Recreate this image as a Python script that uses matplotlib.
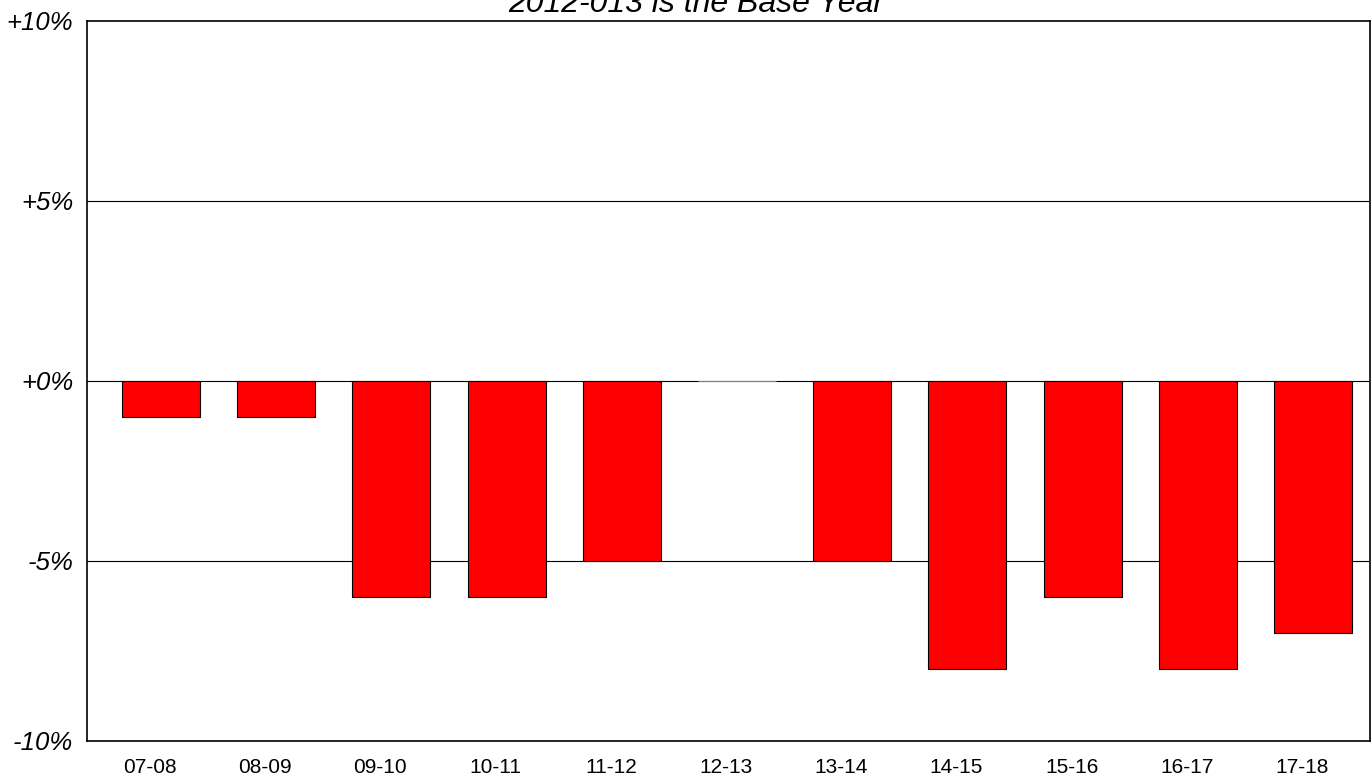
import matplotlib
matplotlib.use("Agg")
import matplotlib.pyplot as plt
import matplotlib.transforms as mtransforms
import numpy as np

plt.rcParams['font.family'] = ['Liberation Sans', 'DejaVu Sans']

categories = ["07-08", "08-09", "09-10", "10-11", "11-12", "12-13",
              "13-14", "14-15", "15-16", "16-17", "17-18"]
values = [-1, -1, -6, -6, -5, 0, -5, -8, -6, -8, -7]
ytick_vals = [-10, -5, 0, 5, 10]
ytick_labels = ["-10%", "-5%", "+0%", "+5%", "+10%"]
title = "2012-013 is the Base Year"

W, H = 1371, 777
fig = plt.figure(figsize=(W / 100, H / 100), dpi=100)
ax = fig.add_axes([87 / W, 1 - 741 / H, (1370 - 87) / W, (741 - 21) / H])

x = np.arange(len(categories))
edgecols = ['black' if v != 0 else '#7080a8' for v in values]
ax.bar(x, values, width=0.677, color='#ff0000', edgecolor=edgecols,
       linewidth=0.8, zorder=3)

ax.set_xlim(-0.642, len(categories) - 1 + 0.495)
ax.set_ylim(-10, 10)
for yv in [-5, 0, 5]:
    ax.axhline(yv, color='black', linewidth=0.8, zorder=1)

ax.set_yticks(ytick_vals)
ax.set_yticklabels(ytick_labels, fontsize=18.5, fontstyle='italic')
ax.set_xticks(x)
ax.set_xticklabels(categories, fontsize=15)
ax.tick_params(axis='both', length=0)
ax.tick_params(axis='y', pad=10)
ax.tick_params(axis='x', pad=12)

offset = mtransforms.ScaledTranslation(-11 / 100, 0, fig.dpi_scale_trans)
for lbl in ax.get_xticklabels():
    lbl.set_transform(lbl.get_transform() + offset)

for s in ax.spines.values():
    s.set_linewidth(1.2)
    s.set_color('black')

fig.text(696.5 / W, 1 - 12 / H, title, ha='center', va='baseline',
         fontsize=23, fontstyle='italic')

fig.savefig("out.png", dpi=100)
